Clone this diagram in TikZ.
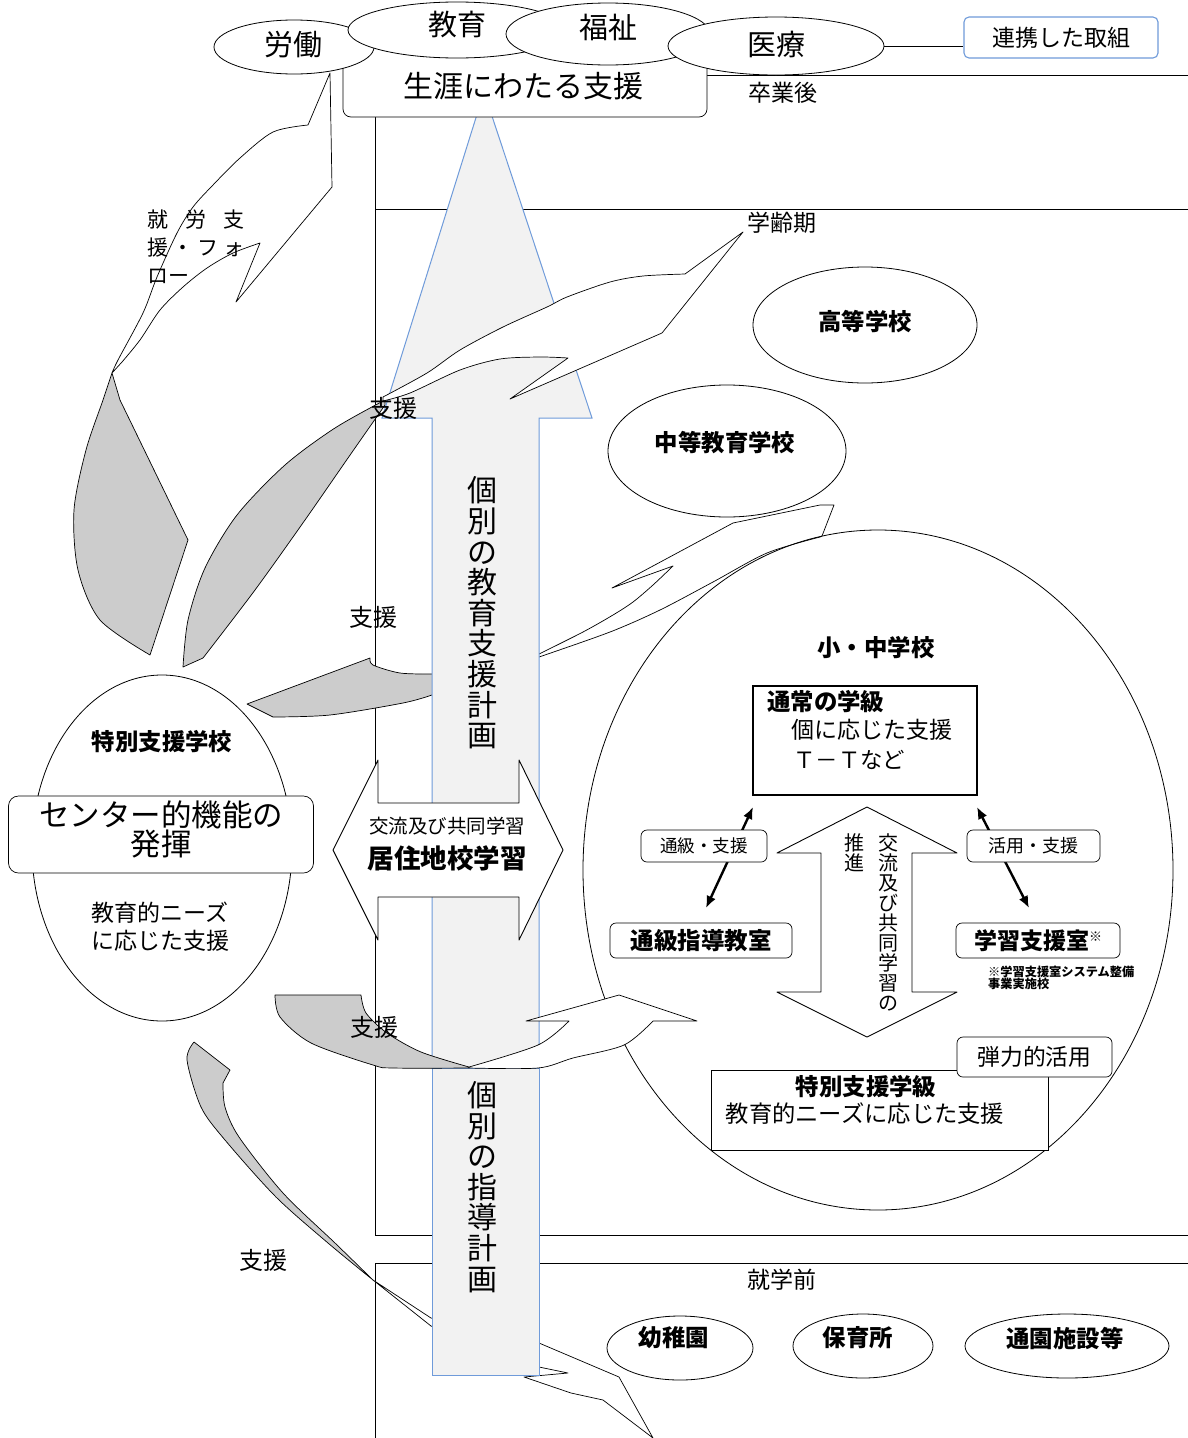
\documentclass[tikz,border=0pt]{standalone}
\usepackage{fontspec}
\setmainfont{Noto Sans CJK JP}
\usetikzlibrary{shapes.geometric,arrows.meta}
\definecolor{abl}{HTML}{6F9BDA}
\definecolor{afill}{HTML}{F2F2F2}
\definecolor{gfill}{HTML}{CCCCCC}
\newcommand\jfs[1]{\fontsize{#1}{#1}\selectfont}
\begin{document}
\begin{tikzpicture}[x=1pt,y=-1pt,
  tx/.style={inner sep=0pt, font=\jfs{23}},
  bx/.style={inner sep=0pt, font=\jfs{23.4}\bfseries},
  oval/.style={draw, ellipse, fill=white, inner sep=0pt, line width=0.8pt},
  band/.style={draw, fill=white, line width=0.7pt, line join=round},
  gband/.style={draw, fill=gfill, line width=0.7pt, line join=round},
  bigarr/.style={draw=abl, fill=afill, line width=1pt},
  rbox/.style={draw, rounded corners=6pt, fill=white, line width=0.7pt, inner sep=0pt},
  frame/.style={line width=0.9pt},
  dbl/.style={line width=2.4pt, {Latex[length=12pt,width=10pt]}-{Latex[length=12pt,width=10pt]}}
]
\useasboundingbox (0,0) rectangle (1188,1438);
\fill[white] (0,0) rectangle (1188,1438);

% frames
\draw[frame] (375,117) -- (375,1235) -- (1188,1235);
\draw[frame] (375,209) -- (1188,209);
\draw[frame] (707,75) -- (1188,75);
\draw[frame] (1188,1263) -- (375,1263) -- (375,1438);
\node[tx] (l1) at (783,93) {卒業後};
\node[tx] (l2) at (782,223) {学齢期};
\node[tx] (l3) at (782,1280) {就学前};

% school ovals
\node[oval, minimum width=224pt, minimum height=116pt] (koto) at (865,325) {};
\node[bx] (kototx) at (865,322) {高等学校};

% arrow 3 (white part partly under the secondary school oval)
\draw[gband] (247,704) -- (370,658) -- plot[smooth] coordinates {(370,658) (373,665) (400,673) (432,674)} -- (445,674) -- (445,695) -- plot[smooth] coordinates {(432,695) (403,703) (330,715) (273,717)} -- cycle;
\draw[band] (530,654) -- plot[smooth] coordinates {(539,654) (583,632) (613,615) (633,602) (653,585) (673,566)} -- (612,588) -- (733,523) -- (820,505) -- (834,505) -- (822,536) -- plot[smooth] coordinates {(820,537) (767,553) (713,582) (660,610) (610,632) (539,657)} -- (530,657) -- cycle;

\node[oval, minimum width=238pt, minimum height=132pt] (chuto) at (727,451) {};
\node[bx] (chutotx) at (725,443) {中等教育学校};
\node[oval, minimum width=146pt, minimum height=64pt] (yochi) at (680,1348) {};
\node[bx] (yochitx) at (674,1338) {幼稚園};
\node[oval, minimum width=140pt, minimum height=64pt] (hoiku) at (863,1346) {};
\node[bx] (hoikutx) at (858,1338) {保育所};
\node[oval, minimum width=204pt, minimum height=64pt] (tsuen) at (1067,1346) {};
\node[bx] (tsuentx) at (1065,1338) {通園施設等};

% arrow 1 (work support)
\draw[gband] (112,373) -- plot[smooth] coordinates {(112,373) (103,400) (86,450) (74,510) (78,570) (100,620) (150,655)} -- (188,540) -- (120,400) -- cycle;
\draw[band] (112,373) -- plot[smooth] coordinates {(112,373) (118,360) (143,313) (157,277) (177,233) (193,207) (213,185) (240,158) (273,132) (308,125)} -- (330,73) -- (332,187) -- (236,302) -- (260,243) -- plot[smooth] coordinates {(260,243) (233,253) (207,268) (183,287) (160,310) (140,340) (122,362)} -- cycle;

% arrow 2 grey part
\draw[gband] (385,400) -- plot[smooth] coordinates {(385,400) (335,428) (285,465) (237,515) (205,568) (188,620) (183,667)} -- (203,658) -- plot[smooth] coordinates {(203,658) (255,590) (305,520) (348,458) (385,405)} -- cycle;

% arrow 5
\draw[band] (373,1280) -- (431,1318) -- (539,1343) -- (619,1377) -- (653,1438) -- (603,1400) -- (571,1393) -- (524,1377) -- (568,1373) -- (539,1367) -- (431,1326) -- cycle;
\draw[gband] (194,1042) -- (230,1070) -- (223,1083) -- plot[smooth] coordinates {(223,1083) (225,1107) (239,1137) (283,1193) (335,1243) (373,1280)} -- plot[smooth] coordinates {(373,1280) (328,1243) (276,1197) (225,1140) (201,1107) (187,1060) (194,1042)} -- cycle;

% big vertical arrow
\draw[bigarr] (484,92) -- (592,418) -- (539,418) -- (539,1068) -- (432,1068) -- (432,418) -- (382,418) -- cycle;
\draw[bigarr] (432,1068) rectangle (539,1375);
\node[inner sep=0pt, align=center, font=\fontsize{30}{30.6}\selectfont] (plan1) at (482,613) {個\\別\\の\\教\\育\\支\\援\\計\\画};
\node[inner sep=0pt, align=center, font=\fontsize{30}{30.6}\selectfont] (plan2) at (482,1187) {個\\別\\の\\指\\導\\計\\画};

% arrow 2 white band (over arrow head)
\draw[band] plot[smooth] coordinates {(383,397) (427,373) (460,350) (503,327) (547,307) (567,297) (610,282) (643,276) (685,274)} -- (743,232) -- (662,333) -- (510,399) -- (568,358) -- plot[smooth] coordinates {(568,358) (540,357) (500,359) (460,370) (410,393) (383,401)} -- cycle;

% lifelong support box and top ovals
\node[rbox, rounded corners=8pt, minimum width=364pt, minimum height=80pt] (shogai) at (525,77) {};
\node[tx, font=\jfs{30}] (shogaitx) at (523,86) {生涯にわたる支援};
\node[oval, minimum width=160pt, minimum height=54pt] (rodo) at (294,47) {};
\node[tx, font=\jfs{29}] (rodotx) at (293,45) {労働};
\node[oval, minimum width=218pt, minimum height=56pt] (kyoiku) at (457,30) {};
\node[tx, font=\jfs{29}] (kyoikutx) at (457,25) {教育};
\node[oval, minimum width=204pt, minimum height=62pt] (fukushi) at (608,34) {};
\node[tx, font=\jfs{29}] (fukushitx) at (608,27) {福祉};
\node[oval, minimum width=216pt, minimum height=58pt] (iryo) at (776,46) {};
\node[tx, font=\jfs{29}] (iryotx) at (776,44) {医療};
\node[draw=abl, line width=1.1pt, rounded corners=5pt, fill=white, minimum width=194pt, minimum height=41pt, inner sep=0pt, font=\jfs{23}] (renkei) at (1061,37.5) {連携した取組};
\draw[frame] (iryo.east) -- (renkei.west |- iryo.east);

% big ellipse of elementary / junior high
\node[draw, ellipse, minimum width=590pt, minimum height=680pt, line width=0.8pt] (shochu) at (878,870) {};

% arrow 4
\draw[gband] (275,995) -- (361,995) -- plot[smooth] coordinates {(361,995) (366,1013) (387,1033) (421,1052) (469,1067)} -- plot[smooth] coordinates {(469,1068) (393,1068) (373,1065) (311,1043) (280,1017) (275,995)} -- cycle;
\draw[band] (469,1067) -- plot[smooth] coordinates {(469,1067) (538,1045) (569,1021)} -- (526,1021) -- (619,995) -- (697,1021) -- (653,1021) -- plot[smooth] coordinates {(653,1021) (624,1045) (573,1058) (538,1068) (469,1068)} -- cycle;

% horizontal exchange arrow
\draw[band, line width=0.9pt] (333,850) -- (378,760) -- (378,803) -- (519,803) -- (519,760) -- (563,850) -- (519,940) -- (519,897) -- (378,897) -- (378,940) -- cycle;
\node[tx, font=\jfs{19.5}] (koryu1) at (447,826) {交流及び共同学習};
\node[bx, font=\jfs{26.5}\bfseries] (kyoju) at (447,858) {居住地校学習};

% inside big ellipse
\node[bx] (shochutx) at (876,648) {小・中学校};
\node[draw, line width=1.1pt, minimum width=224pt, minimum height=109pt, inner sep=0pt] (tsujo) at (865,740.5) {};
\node[bx, anchor=west] (tsujo1) at (767,702) {通常の学級};
\node[tx, anchor=west] (tsujo2) at (791,730) {個に応じた支援};
\node[tx, anchor=west, font=\jfs{22.4}] (tsujo3) at (793,760) {Ｔ－Ｔなど};
\coordinate (a1) at (753,807);
\coordinate (a2) at (706,908);
\coordinate (b1) at (977,807);
\coordinate (b2) at (1029,908);
\draw[dbl] (a1) -- (a2);
\draw[dbl] (b1) -- (b2);
\node[rbox, minimum width=126pt, minimum height=32pt, font=\jfs{17.6}] (tsukyu) at (704,846) {通級・支援};
\node[rbox, minimum width=133pt, minimum height=32pt, font=\jfs{18}] (katsuyo) at (1033.5,846) {活用・支援};
\node[rbox, minimum width=182pt, minimum height=35pt, font=\jfs{23.5}\bfseries] (shido) at (701,940.5) {通級指導教室};
\node[rbox, minimum width=164pt, minimum height=35pt, font=\jfs{23}\bfseries] (gakushu) at (1038,940.5) {学習支援室\raisebox{8pt}{\jfs{13}\mdseries ※}};
\node[inner sep=0pt, anchor=north west, align=left, font=\fontsize{12.2}{12}\selectfont\bfseries] (note) at (988,966) {※学習支援室システム整備\\事業実施校};
\draw[band, line width=0.9pt] (867,807) -- (957,853) -- (912,853) -- (912,992) -- (957,992) -- (867,1037) -- (777,992) -- (821,992) -- (821,853) -- (777,853) -- cycle;
\node[inner sep=0pt, align=center, font=\fontsize{20}{20}\selectfont] (suishin1) at (888,922) {交\\流\\及\\び\\共\\同\\学\\習\\の};
\node[inner sep=0pt, align=center, font=\fontsize{20}{20}\selectfont] (suishin2) at (854,853) {推\\進};
\node[draw, line width=0.9pt, fill=white, minimum width=337pt, minimum height=80pt, inner sep=0pt] (tokkyu) at (879.5,1110) {};
\node[bx] (tokkyu1) at (866,1087) {特別支援学級};
\node[tx, font=\jfs{23.3}] (tokkyu2) at (865,1114) {教育的ニーズに応じた支援};
\node[rbox, minimum width=155pt, minimum height=40pt, font=\jfs{22.8}] (danryoku) at (1034.5,1057) {弾力的活用};

% special support school
\node[oval, minimum width=260pt, minimum height=346pt] (tokushi) at (162,848) {};
\node[bx] (tokushitx) at (162,742) {特別支援学校};
\node[rbox, rounded corners=10pt, minimum width=305pt, minimum height=77pt] (center) at (161,834.5) {};
\node[inner sep=0pt, align=center, font=\fontsize{30.5}{29}\selectfont] (centertx) at (161,829) {センター的機能の\\発揮};
\node[inner sep=0pt, align=center, font=\fontsize{23}{28}\selectfont] (needs) at (160,927) {教育的ニーズ\\に応じた支援};

% labels
\node[tx, font=\jfs{24}] (s1) at (393,408) {支援};
\node[tx, font=\jfs{24}] (s2) at (373,617) {支援};
\node[tx, font=\jfs{24}] (s3) at (374,1027) {支援};
\node[tx, font=\jfs{24}] (s4) at (263,1260) {支援};
\node[inner sep=0pt, anchor=north west, align=left, font=\fontsize{21}{28}\selectfont] (shuro) at (147,210) {\makebox[97pt][l]{就\hfill 労\hfill 支}\\\makebox[97pt][l]{援\hfill ・\hfill フ\hfill ォ}\\ロー};
\end{tikzpicture}
\end{document}
